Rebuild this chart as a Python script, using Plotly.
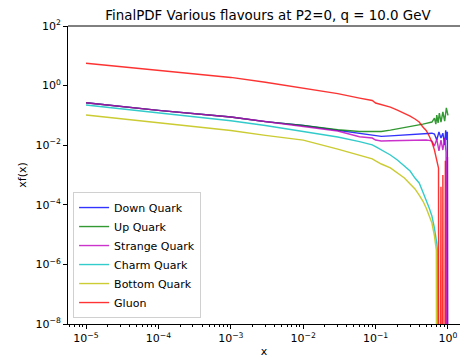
import plotly.graph_objects as go

# ---------------- data ----------------
CLIP = 1e-30  # non-positive values are clipped on the log axis

x_main = [1e-5, 1e-4, 1e-3, 3e-3, 1e-2, 3e-2, 0.06, 0.09, 0.1, 0.12, 0.16, 0.2,
          0.25, 0.3, 0.35, 0.4, 0.45, 0.5, 0.55, 0.6]

down_main = [0.267, 0.148, 0.088, 0.062, 0.046, 0.032, 0.024, 0.0214, 0.0205, 0.0197, 0.0205, 0.0214,
             0.0218, 0.023, 0.0233, 0.0236, 0.024, 0.0245, 0.025, 0.0253]
up_main = [0.265, 0.148, 0.088, 0.062, 0.046, 0.033, 0.0288, 0.0295, 0.0284, 0.0288, 0.032, 0.035,
           0.038, 0.041, 0.0445, 0.048, 0.051, 0.054, 0.057, 0.060]
strange_main = [0.267, 0.148, 0.088, 0.062, 0.044, 0.030, 0.0193, 0.0174, 0.0149, 0.0138, 0.0141, 0.0143,
                0.0146, 0.0149, 0.0149, 0.0149, 0.0149, 0.0149, 0.0145, 0.0138]
charm_main = [0.223, 0.119, 0.066, 0.046, 0.029, 0.0188, 0.0132, 0.0102, 0.0089, 0.0069, 0.00469, 0.00318,
              0.0020, 0.00136, 7.9e-4, 5.4e-4, 2.7e-4, 1.45e-4, 7.8e-5, 4.2e-5]
bottom_main = [0.103, 0.055, 0.031, 0.0214, 0.0148, 0.0074, 0.0047, 0.0035, 0.0030, 0.00234, 0.00172, 0.00117,
               7.9e-4, 5.0e-4, 3.4e-4, 2.13e-4, 1.34e-4, 7.8e-5, 4.5e-5, 2.45e-5]
gluon_main = [5.6, 3.2, 1.88, 1.29, 0.80, 0.54, 0.38, 0.316, 0.26, 0.232, 0.19, 0.151,
              0.12, 0.095, 0.0757, 0.060, 0.0408, 0.0311, 0.0204, 0.0128]

down_tail_x = [0.65, 0.7, 0.75, 0.8, 0.85, 0.9, 0.93, 0.96, 0.98, 1.0]
down_tail_y = [0.0236, 0.0149, 0.028, 0.0173, 0.0253, 0.0102, 0.0318, 0.0149, 0.028, CLIP]

up_tail_x = [0.65, 0.68, 0.7, 0.73, 0.76, 0.8, 0.85, 0.9, 0.95, 1.0]
up_tail_y = [0.081, 0.051, 0.102, 0.056, 0.12, 0.06, 0.13, 0.064, 0.178, 0.10]

strange_tail_x = [0.65, 0.7, 0.75, 0.8, 0.85, 0.9, 0.94, 0.97, 0.985, 1.0]
strange_tail_y = [0.0093, 0.0161, 0.0064, 0.0149, 0.0069, 0.0174, 0.0060, CLIP, 0.004, CLIP]

charm_tail_x = [0.65, 0.7, 0.72, 0.74]
charm_tail_y = [1.66e-5, 5.2e-6, 2.6e-6, CLIP]

bottom_tail_x = [0.65, 0.69, 0.71]
bottom_tail_y = [9.0e-6, 3.0e-6, CLIP]

gluon_tail_x = [0.65, 0.7, 0.74, 0.75, 0.8, 0.82, 0.85, 0.87, 0.92, 0.93]
gluon_tail_y = [0.0069, 0.00344, 0.00172, CLIP, 4e-4, CLIP, 1e-3, CLIP, 3e-3, CLIP]

names = ["Down Quark", "Up Quark", "Strange Quark", "Charm Quark", "Bottom Quark", "Gluon"]
colors = ["#0000ff", "#008000", "#bf00bf", "#00bfbf", "#bfbf00", "#ff0000"]

series = [
    (down_main, down_tail_x, down_tail_y),
    (up_main, up_tail_x, up_tail_y),
    (strange_main, strange_tail_x, strange_tail_y),
    (charm_main, charm_tail_x, charm_tail_y),
    (bottom_main, bottom_tail_x, bottom_tail_y),
    (gluon_main, gluon_tail_x, gluon_tail_y),
]

y_tick_vals = [1e-8, 1e-6, 1e-4, 1e-2, 1e0, 1e2]
y_tick_text = ["10<sup>−8</sup>", "10<sup>−6</sup>", "10<sup>−4</sup>", "10<sup>−2</sup>", "10<sup>0</sup>", "10<sup>2</sup>"]
x_tick_vals = [1e-5, 1e-4, 1e-3, 1e-2, 1e-1, 1e0]
x_tick_text = ["10<sup>−5</sup>", "10<sup>−4</sup>", "10<sup>−3</sup>", "10<sup>−2</sup>", "10<sup>−1</sup>", "10<sup>0</sup>"]

# ---------------- figure ----------------
fig = go.Figure()
for name, color, (ym, tx, ty) in zip(names, colors, series):
    fig.add_trace(go.Scatter(
        x=x_main + tx, y=ym + ty, mode="lines", name=name,
        line=dict(color=color, width=1.4), opacity=0.8,
    ))

FONT = "DejaVu Sans"
minor_x = [m * 10.0 ** k for k in range(-6, 1) for m in range(2, 10)]

fig.update_layout(
    width=460, height=358,
    margin=dict(l=68, r=0, t=26, b=34),
    paper_bgcolor="white", plot_bgcolor="white",
    font=dict(family=FONT, size=11, color="black"),
    title=dict(text="FinalPDF Various flavours at P2=0, q = 10.0 GeV",
               x=268 / 460, xanchor="center", y=1 - 15 / 358, yanchor="middle",
               font=dict(family=FONT, size=13.4, color="black")),
    showlegend=True,
    legend=dict(x=0.013, y=0.02, xanchor="left", yanchor="bottom",
                bgcolor="rgba(255,255,255,0.8)", bordercolor="#d0d0d0", borderwidth=1,
                font=dict(family=FONT, size=11, color="black"),
                tracegroupgap=0, itemwidth=30),
    xaxis=dict(type="log", range=[-5.249, 0.166], showgrid=False, zeroline=False,
               showline=True, linecolor="black", linewidth=1,
               ticks="outside", ticklen=4, tickcolor="black",
               tickmode="array", tickvals=x_tick_vals, ticktext=x_tick_text,
               minor=dict(tickvals=minor_x, ticks="outside", ticklen=2, tickcolor="black"),
               title=dict(text="x", standoff=6, font=dict(family=FONT, size=11))),
    yaxis=dict(type="log", range=[-8, 2], showgrid=False, zeroline=False,
               showline=True, linecolor="black", linewidth=1,
               ticks="outside", ticklen=4, tickcolor="black",
               tickmode="array", tickvals=y_tick_vals, ticktext=y_tick_text,
               title=dict(text="xf(x)", standoff=6, font=dict(family=FONT, size=11))),
)
fig.add_shape(type="line", xref="paper", yref="paper", x0=0, x1=1, y0=1, y1=1,
              line=dict(color="black", width=1))

fig.write_html("out.html")
